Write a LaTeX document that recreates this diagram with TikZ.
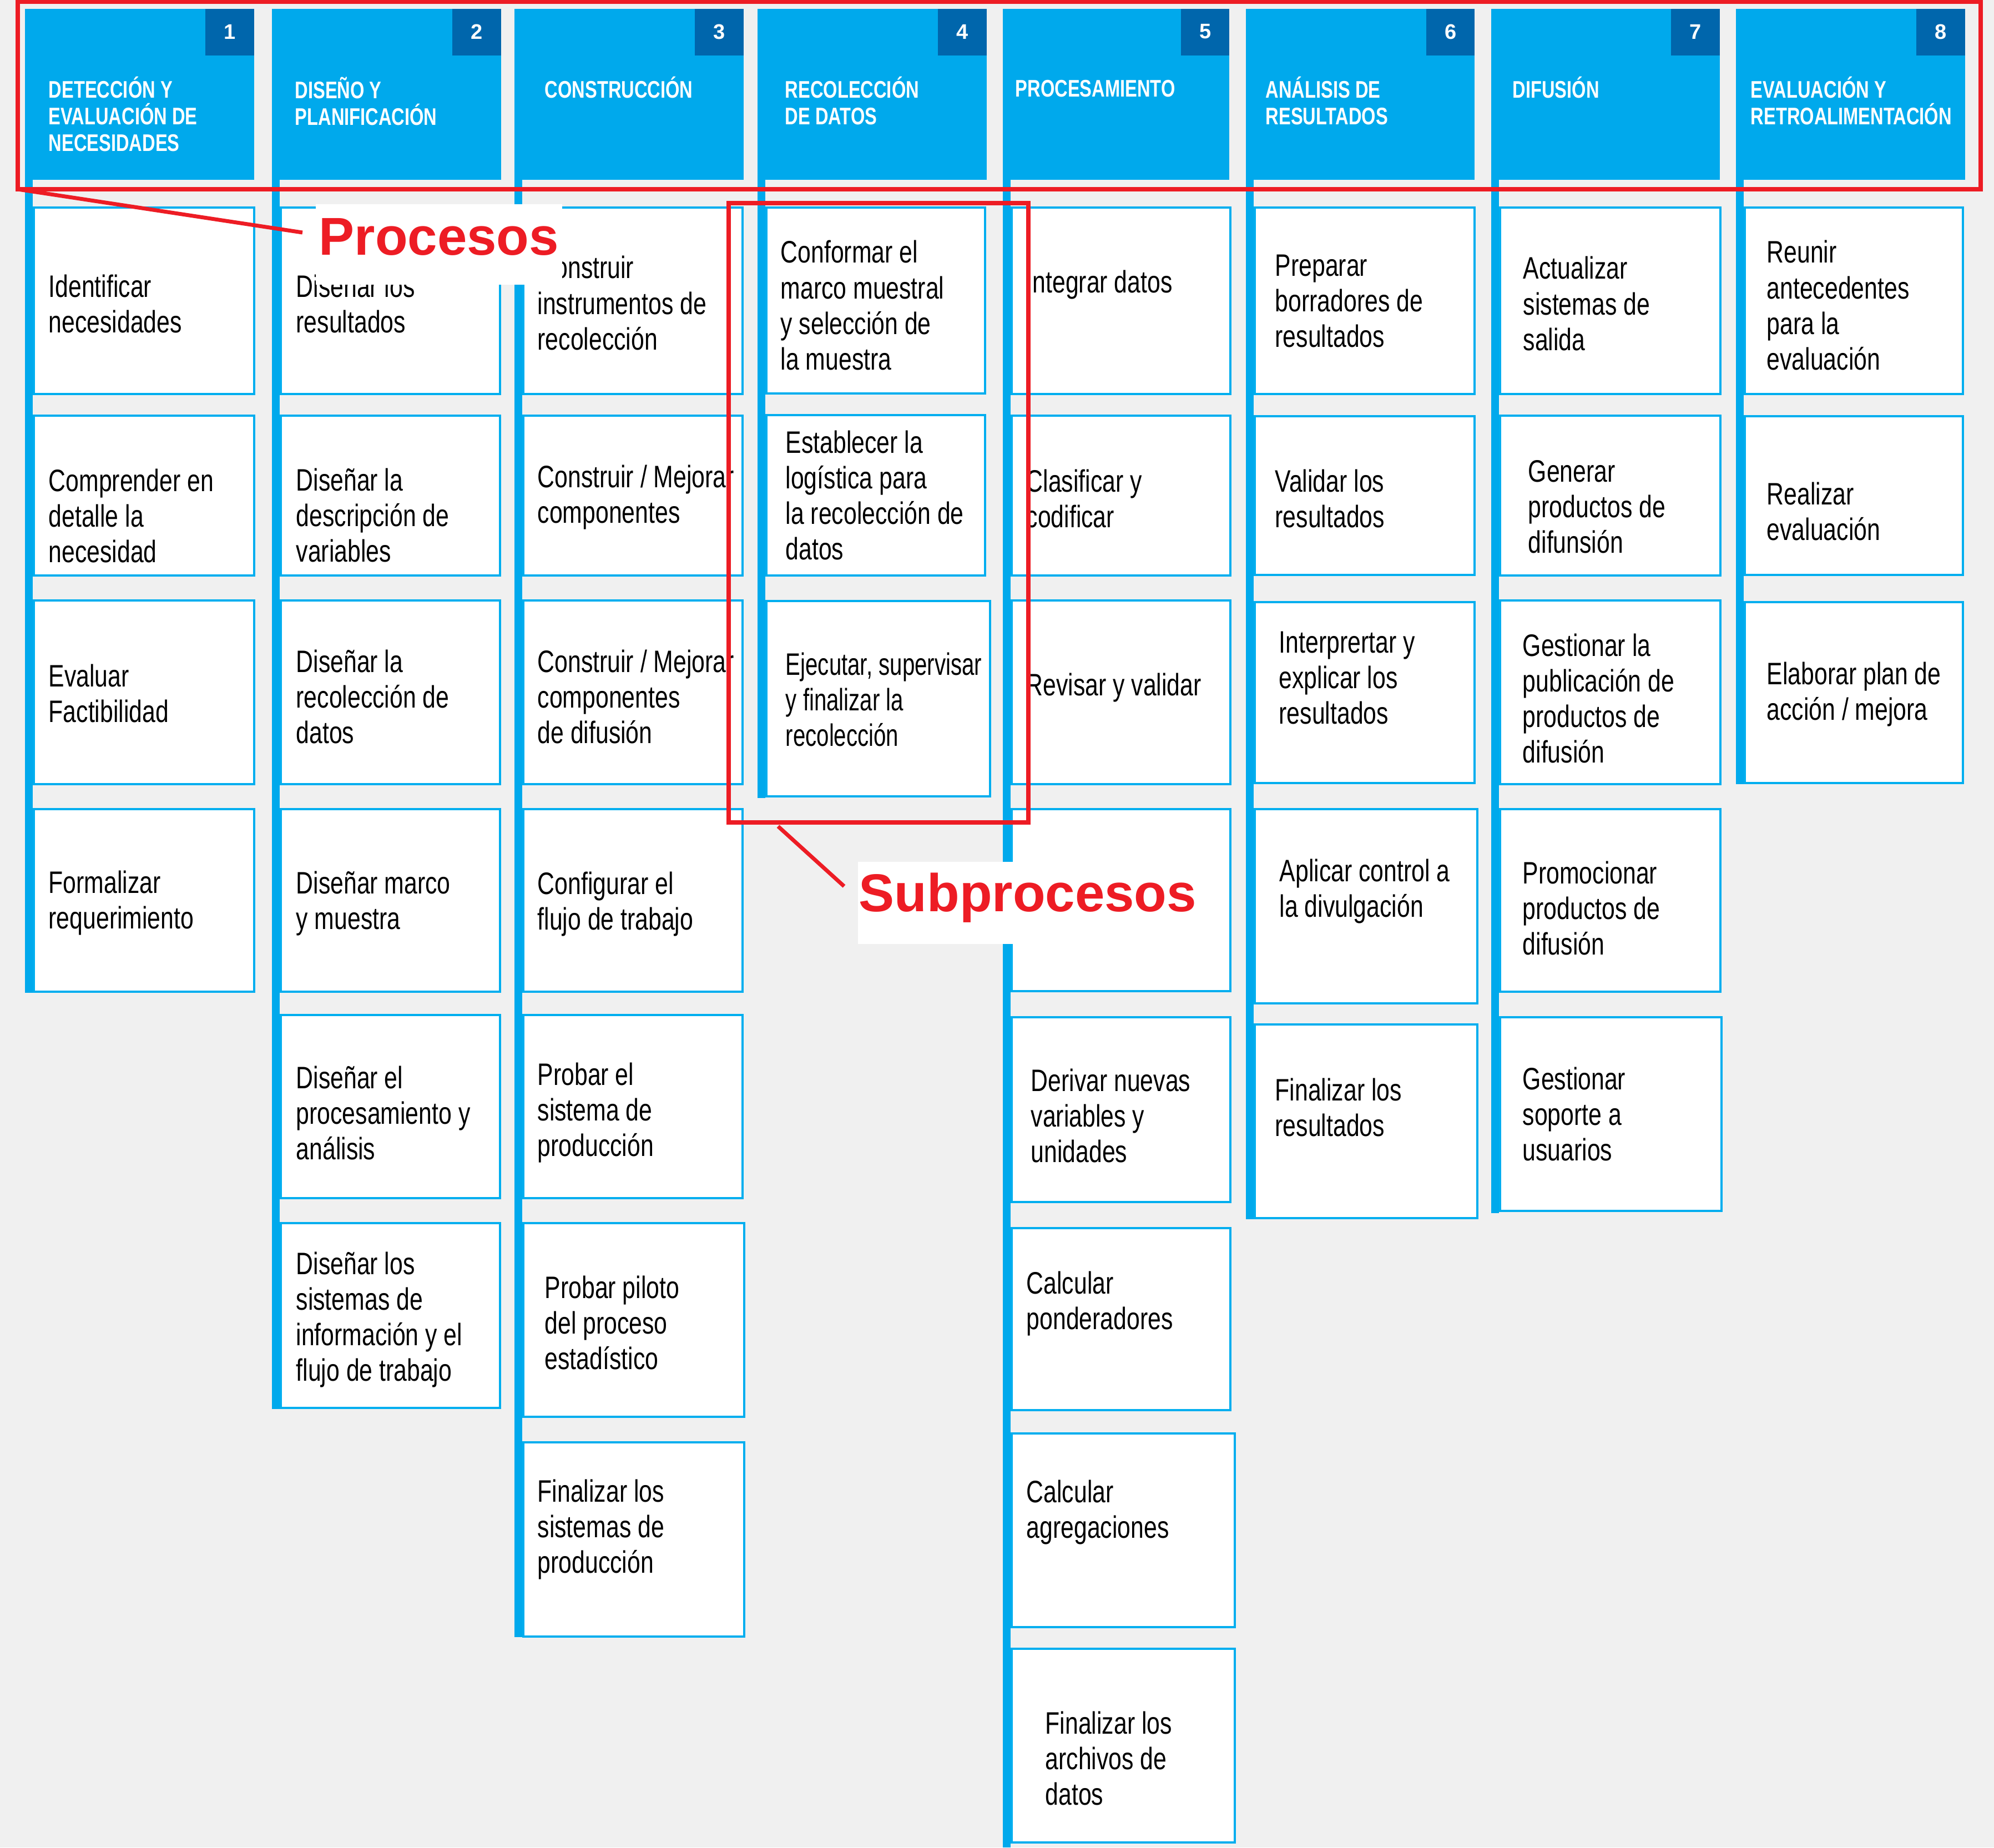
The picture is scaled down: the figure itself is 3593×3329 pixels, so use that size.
\documentclass[tikz,border=0pt]{standalone}
\usepackage{fontspec}
\usepackage{tikz}

\newfontfamily\boxfont[FakeStretch=0.765]{Liberation Sans}
\newfontfamily\boxfontnarrow[FakeStretch=0.72]{Liberation Sans}
\newfontfamily\headfont[FakeStretch=0.755]{Liberation Sans Bold}
\newfontfamily\numfont{Liberation Sans Bold}
\newfontfamily\labelfont{Liberation Sans Bold}

\definecolor{bgray}{RGB}{240,240,240}
\definecolor{hblue}{RGB}{0,169,236}
\definecolor{bblue}{RGB}{0,174,239}
\definecolor{nblue}{RGB}{0,102,172}
\definecolor{mred}{RGB}{237,28,36}

\begin{document}
\begin{tikzpicture}[x=0.01cm, y=-0.01cm,
    subbox/.style={draw=bblue, fill=white, line width=0.046cm},
    subtext/.style={anchor=west, align=left, inner sep=0pt, font=\boxfont\fontsize{15.9pt}{18.2pt}\selectfont},
    headtext/.style={anchor=north west, align=left, inner sep=0pt, text=white, font=\headfont\fontsize{12.3pt}{13.66pt}\selectfont},
    numtext/.style={inner sep=0pt, text=white, font=\numfont\fontsize{10.8pt}{12pt}\selectfont},
    redlabel/.style={anchor=base west, fill=white, text=mred, inner ysep=0pt, font=\labelfont\fontsize{27.3pt}{30pt}\selectfont},
    redframe/.style={draw=mred, line width=0.075cm},
    redline/.style={draw=mred, line width=0.07cm}]

    \fill[bgray] (0,0) rectangle (3593,3329);
    \useasboundingbox (0,0) rectangle (3593,3329);

    % vertical bars
    \fill[hblue] (45,16) rectangle (59,1789);
    \fill[hblue] (490,16) rectangle (504,2539);
    \fill[hblue] (927,16) rectangle (941,2950);
    \fill[hblue] (1365,16) rectangle (1379,1438);
    \fill[hblue] (1807,16) rectangle (1821,3329);
    \fill[hblue] (2245,16) rectangle (2259,2197);
    \fill[hblue] (2687,16) rectangle (2701,2186);
    \fill[hblue] (3128,16) rectangle (3142,1413);

    % process headers
    \fill[hblue] (45,16) rectangle (458,324);
    \fill[nblue] (370,16) rectangle (458,100);
    \node[numtext] (n1) at (414,57) {1};
    \node[headtext] (h1) at (87,137) {DETECCIÓN Y\\EVALUACIÓN DE\\NECESIDADES};

    \fill[hblue] (490,16) rectangle (903,324);
    \fill[nblue] (815,16) rectangle (903,100);
    \node[numtext] (n2) at (859,57) {2};
    \node[headtext] (h2) at (531,138) {DISEÑO Y\\PLANIFICACIÓN};

    \fill[hblue] (927,16) rectangle (1340,324);
    \fill[nblue] (1252,16) rectangle (1340,100);
    \node[numtext] (n3) at (1296,57) {3};
    \node[headtext] (h3) at (981,137) {CONSTRUCCIÓN};

    \fill[hblue] (1365,16) rectangle (1778,324);
    \fill[nblue] (1690,16) rectangle (1778,100);
    \node[numtext] (n4) at (1734,57) {4};
    \node[headtext] (h4) at (1414,137) {RECOLECCIÓN\\DE DATOS};

    \fill[hblue] (1807,16) rectangle (2215,324);
    \fill[nblue] (2128,16) rectangle (2215,100);
    \node[numtext] (n5) at (2172,57) {5};
    \node[headtext] (h5) at (1829,144) {PROCESAMIENTO};

    \fill[hblue] (2245,16) rectangle (2657,324);
    \fill[nblue] (2570,16) rectangle (2657,100);
    \node[numtext] (n6) at (2614,57) {6};
    \node[headtext] (h6) at (2280,137) {ANÁLISIS DE\\RESULTADOS};

    \fill[hblue] (2687,16) rectangle (3099,324);
    \fill[nblue] (3011,16) rectangle (3099,100);
    \node[numtext] (n7) at (3055,57) {7};
    \node[headtext] (h7) at (2725,137) {DIFUSIÓN};

    \fill[hblue] (3128,16) rectangle (3541,324);
    \fill[nblue] (3453,16) rectangle (3541,100);
    \node[numtext] (n8) at (3497,57) {8};
    \node[headtext] (h8) at (3154,137) {EVALUACIÓN Y\\RETROALIMENTACIÓN};

    % column 1
    \draw[subbox] (61,374) rectangle (458,710);
    \draw[subbox] (61,749) rectangle (458,1037);
    \draw[subbox] (61,1082) rectangle (458,1413);
    \draw[subbox] (61,1458) rectangle (458,1787);
    \node[subtext] (t11) at (87,547) {Identificar\\necesidades};
    \node[subtext] (t12) at (87,929) {Comprender en\\detalle la\\necesidad};
    \node[subtext] (t13) at (87,1249) {Evaluar\\Factibilidad};
    \node[subtext] (t14) at (87,1627) {Formalizar\\requerimiento};

    % column 2
    \draw[subbox] (506,374) rectangle (901,710);
    \draw[subbox] (506,749) rectangle (901,1037);
    \draw[subbox] (506,1082) rectangle (901,1413);
    \draw[subbox] (506,1458) rectangle (901,1787);
    \draw[subbox] (506,1829) rectangle (901,2159);
    \draw[subbox] (506,2204) rectangle (901,2537);
    \node[subtext] (t21) at (533,547) {Diseñar los\\resultados};
    \node[subtext] (t22) at (533,928) {Diseñar la\\descripción de\\variables};
    \node[subtext] (t23) at (533,1255) {Diseñar la\\recolección de\\datos};
    \node[subtext] (t24) at (533,1628) {Diseñar marco\\y muestra};
    \node[subtext] (t25) at (533,2005) {Diseñar el\\procesamiento y\\análisis};
    \node[subtext] (t26) at (533,2378) {Diseñar los\\sistemas de\\información y el\\flujo de trabajo};

    % column 3
    \draw[subbox] (943,374) rectangle (1338,710);
    \draw[subbox] (943,749) rectangle (1338,1037);
    \draw[subbox] (943,1082) rectangle (1338,1413);
    \draw[subbox] (943,1458) rectangle (1338,1787);
    \draw[subbox] (943,1829) rectangle (1338,2159);
    \draw[subbox] (943,2204) rectangle (1341,2553);
    \draw[subbox] (943,2599) rectangle (1341,2949);
    \node[subtext] (t31) at (968,546) {Construir\\instrumentos de\\recolección};
    \node[subtext] (t32) at (968,896) {Construir / Mejorar\\componentes};
    \node[subtext] (t33) at (968,1255) {Construir / Mejorar\\componentes\\de difusión};
    \node[subtext] (t34) at (968,1629) {Configurar el\\flujo de trabajo};
    \node[subtext] (t35) at (968,2005) {Probar el\\sistema de\\producción};
    \node[subtext] (t36) at (981,2383) {Probar piloto\\del proceso\\estadístico};
    \node[subtext] (t37) at (968,2756) {Finalizar los\\sistemas de\\producción};

    % column 4
    \draw[subbox] (1381,374) rectangle (1775,709);
    \draw[subbox] (1381,748) rectangle (1775,1037);
    \draw[subbox] (1381,1083) rectangle (1784,1435);
    \node[subtext] (t41) at (1406,550) {Conformar el\\marco muestral\\y selección de\\la muestra};
    \node[subtext] (t42) at (1415,892) {Establecer la\\logística para\\la recolección de\\datos};
    \node[subtext, font=\boxfontnarrow\fontsize{15.9pt}{18.2pt}\selectfont] (t43) at (1415,1260) {Ejecutar, supervisar\\y finalizar la\\recolección};

    % column 5
    \draw[subbox] (1823,374) rectangle (2217,710);
    \draw[subbox] (1823,749) rectangle (2217,1037);
    \draw[subbox] (1823,1082) rectangle (2217,1413);
    \draw[subbox] (1823,1458) rectangle (2217,1786);
    \draw[subbox] (1823,1833) rectangle (2217,2166);
    \draw[subbox] (1823,2213) rectangle (2217,2541);
    \draw[subbox] (1823,2583) rectangle (2225,2932);
    \draw[subbox] (1823,2971) rectangle (2225,3320);
    \node[subtext] (t51) at (1848,513) {Integrar datos};
    \node[subtext] (t52) at (1848,898) {Clasificar y\\codificar};
    \node[subtext] (t53) at (1848,1239) {Revisar y validar};
    \node[subtext] (t55) at (1857,2010) {Derivar nuevas\\variables y\\unidades};
    \node[subtext] (t56) at (1849,2349) {Calcular\\ponderadores};
    \node[subtext] (t57) at (1849,2725) {Calcular\\agregaciones};
    \node[subtext] (t58) at (1883,3168) {Finalizar los\\archivos de\\datos};

    % column 6
    \draw[subbox] (2261,374) rectangle (2657,710);
    \draw[subbox] (2261,750) rectangle (2657,1036);
    \draw[subbox] (2261,1085) rectangle (2657,1411);
    \draw[subbox] (2261,1458) rectangle (2662,1808);
    \draw[subbox] (2261,1846) rectangle (2662,2195);
    \node[subtext] (t61) at (2297,543) {Preparar\\borradores de\\resultados};
    \node[subtext] (t62) at (2297,898) {Validar los\\resultados};
    \node[subtext] (t63) at (2304,1222) {Interprertar y\\explicar los\\resultados};
    \node[subtext] (t64) at (2305,1606) {Aplicar control a\\la divulgación};
    \node[subtext] (t65) at (2297,1995) {Finalizar los\\resultados};

    % column 7
    \draw[subbox] (2703,374) rectangle (3100,710);
    \draw[subbox] (2703,749) rectangle (3100,1037);
    \draw[subbox] (2703,1082) rectangle (3100,1413);
    \draw[subbox] (2703,1458) rectangle (3100,1787);
    \draw[subbox] (2703,1833) rectangle (3102,2182);
    \node[subtext] (t71) at (2744,547) {Actualizar\\sistemas de\\salida};
    \node[subtext] (t72) at (2753,913) {Generar\\productos de\\difunsión};
    \node[subtext] (t73) at (2743,1258) {Gestionar la\\publicación de\\productos de\\difusión};
    \node[subtext] (t74) at (2743,1636) {Promocionar\\productos de\\difusión};
    \node[subtext] (t75) at (2743,2007) {Gestionar\\soporte a\\usuarios};

    % column 8
    \draw[subbox] (3144,374) rectangle (3537,710);
    \draw[subbox] (3144,750) rectangle (3537,1036);
    \draw[subbox] (3144,1085) rectangle (3537,1411);
    \node[subtext] (t81) at (3183,550) {Reunir\\antecedentes\\para la\\evaluación};
    \node[subtext] (t82) at (3183,921) {Realizar\\evaluación};
    \node[subtext] (t83) at (3183,1251) {Elaborar plan de\\acción / mejora};

    % callouts
    \node[redlabel, inner xsep=0.06cm, text height=0.91cm, text depth=0.54cm] (proc) at (568,459) {Procesos};
    \node[redlabel, inner xsep=0.02cm, text height=0.89cm, text depth=0.59cm] (subproc) at (1545,1642) {Subprocesos};

    \draw[redframe] (32,3) rectangle (3569,341);
    \draw[redframe] (1313,366) rectangle (1853,1482);

    \coordinate (procfrom) at (32,341);
    \coordinate (procto) at (545,419);
    \coordinate (subfrom) at (1402,1489);
    \coordinate (subto) at (1521,1597);
    \draw[redline] (procfrom) -- (procto);
    \draw[redline] (subfrom) -- (subto);
\end{tikzpicture}
\end{document}
